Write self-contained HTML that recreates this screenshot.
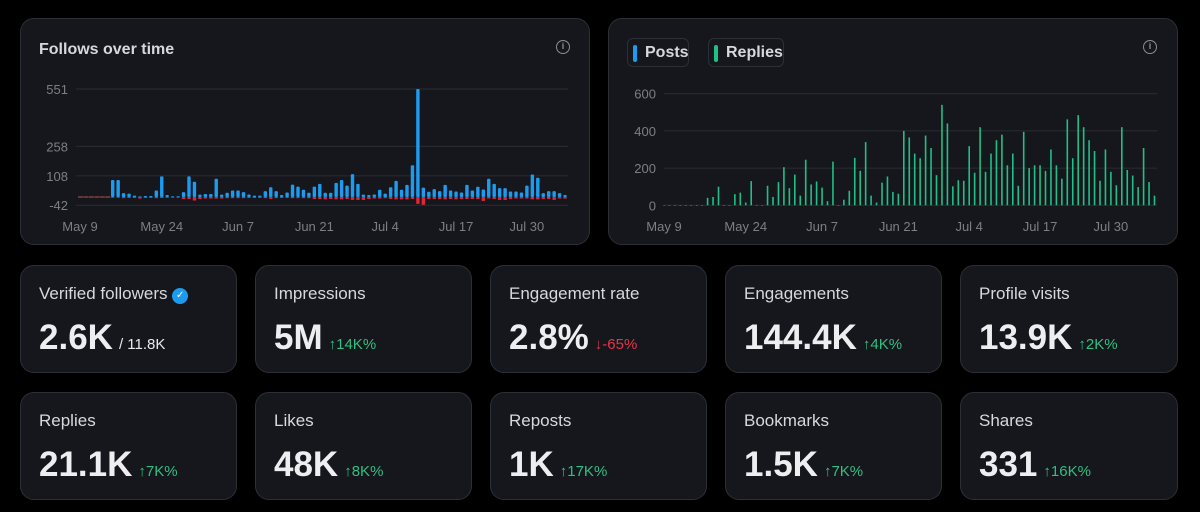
<!DOCTYPE html>
<html><head><meta charset="utf-8"><style>
*{box-sizing:border-box;margin:0;padding:0}
body{width:1200px;height:512px;background:#000;font-family:"Liberation Sans",sans-serif;position:relative;overflow:hidden;color:#e7e9ea}
.card{position:absolute;background:#16171c;border:1px solid #2c2f35;border-radius:14px}
.title{position:absolute;left:18px;top:22px;font-size:16px;font-weight:bold;color:#d6d9dc}
.info{position:absolute;width:14px;height:14px;border:1.5px solid #8b8f95;border-radius:50%;font-size:9px;color:#8b8f95;text-align:center;line-height:11px;font-weight:bold}
.stat .lbl{position:absolute;left:18px;top:18px;font-size:17px;color:#d6d9dc}
.stat .val{position:absolute;left:18px;top:52px;font-size:35px;font-weight:bold;color:#eceef0;white-space:nowrap}
.stat .chg{font-size:15px;font-weight:normal;color:#2fc07f;margin-left:6px}
.stat .chg.neg{color:#e0374a}
.stat .sub{font-size:15px;font-weight:normal;color:#e7e9ea;margin-left:6px}
.leg{position:absolute;top:19px;height:29px;border:1px solid #2c2f35;border-radius:6px;font-size:16px;font-weight:bold;color:#d6d9dc;padding:5px 8px 0 17px}
.leg i{position:absolute;left:5px;top:6px;width:4px;height:17px;border-radius:2px}
svg text{font-family:"Liberation Sans",sans-serif;font-size:13px;fill:#7b7f85}
</style></head><body>
<div class="card" style="left:20px;top:18px;width:570px;height:227px">
<div class="title">Follows over time</div>
<div class="info" style="left:535px;top:21px">i</div>
</div>
<div class="card" style="left:608px;top:18px;width:570px;height:227px">
<div class="leg" style="left:18px;width:62px"><i style="background:#1d9bf0"></i>Posts</div>
<div class="leg" style="left:99px;width:76px"><i style="background:#1fbf85"></i>Replies</div>
<div class="info" style="left:534px;top:21px">i</div>
</div>
<svg id="c" width="1200" height="512" style="position:absolute;left:0;top:0"></svg>
<script>
const dates1=["May 9","May 24","Jun 7","Jun 21","Jul 4","Jul 17","Jul 30"];
const dateIdx=[0,15,29,43,56,69,82];
const ticks1=[551,258,108,-42];
const follows=[0,0,0,0,0,0,87,87,20,17,7,3,5,5,33,105,10,3,4,25,105,78,12,15,15,93,12,22,33,33,25,13,7,7,30,50,30,10,23,63,53,37,22,53,67,22,22,72,87,58,117,67,12,10,13,37,17,50,82,37,62,162,551,48,27,40,30,62,33,28,23,62,33,52,38,93,67,45,45,28,28,23,58,115,98,20,30,30,20,10];
const unfollows=[0,0,0,0,0,0,-4,-4,-6,-5,-5,-8,-5,-5,-6,-5,-4,-4,-4,-10,-10,-18,-10,-8,-8,-8,-8,-6,-6,-6,-6,-5,-5,-5,-6,-10,-6,-5,-5,-6,-6,-6,-6,-10,-10,-12,-10,-12,-12,-10,-15,-15,-15,-10,-8,-8,-6,-10,-12,-12,-12,-10,-35,-40,-10,-10,-10,-12,-10,-12,-10,-10,-10,-10,-20,-8,-10,-15,-15,-10,-8,-8,-8,-12,-12,-10,-10,-15,-8,-8];
const ticks2=[600,400,200,0];
const replies=[0,0,0,0,0,0,0,0,40,45,100,0,0,60,68,15,130,0,0,105,45,125,205,92,165,52,245,112,128,95,22,235,0,30,78,255,185,340,52,15,122,155,72,62,400,365,278,253,375,308,162,540,440,102,135,132,318,175,420,180,278,350,380,215,278,105,395,200,215,215,185,300,215,143,462,253,485,420,350,292,132,300,180,108,420,190,160,98,308,125,52];
const svg=document.getElementById('c');const NS='http://www.w3.org/2000/svg';
function mk(t,a){const e=document.createElementNS(NS,t);for(const k in a)e.setAttribute(k,a[k]);svg.appendChild(e);return e;}
const x1=i=>80+i*5.45, y1=v=>197-v*0.196;
const x2=i=>664+i*5.45, y2=v=>205.3-v*0.186;
ticks1.forEach(t=>{const l=mk('line',{x1:76,x2:568,y1:y1(t),y2:y1(t),stroke:'#2a2d33'});
const tx=mk('text',{x:68,y:y1(t)+5,'text-anchor':'end'});tx.textContent=t;});
dates1.forEach((d,k)=>{const tx=mk('text',{x:x1(dateIdx[k]),y:231,'text-anchor':'middle'});tx.textContent=d;});
follows.forEach((v,i)=>{if(v<=0){const l=mk('line',{x1:x1(i)-2,x2:x1(i)+3,y1:y1(0),y2:y1(0),stroke:'#c0504d','stroke-width':1});return;}
const r=mk('rect',{x:x1(i)-1.7,y:y1(v),width:3.4,height:y1(0)-y1(v),fill:'#1d9bf0',rx:1});});
unfollows.forEach((v,i)=>{if(v>=0)return;const r=mk('rect',{x:x1(i)-1.7,y:y1(0),width:3.4,height:y1(v)-y1(0),fill:'#e0243a'});});
ticks2.forEach(t=>{const l=mk('line',{x1:664,x2:1157,y1:y2(t),y2:y2(t),stroke:'#2a2d33'});
const tx=mk('text',{x:656,y:y2(t)+5,'text-anchor':'end'});tx.textContent=t;});
dates1.forEach((d,k)=>{const tx=mk('text',{x:x2(dateIdx[k]),y:231,'text-anchor':'middle'});tx.textContent=d;});
replies.forEach((v,i)=>{const r=mk('rect',{x:x2(i)-0.8,y:y2(v),width:1.6,height:Math.max(0.5,y2(0)-y2(v)),fill:'#1fbf85'});});
</script>
<div class="card stat" style="left:20px;top:265px;width:217px;height:108px"><div class="lbl">Verified followers <span style="display:inline-block;width:16px;height:16px;border-radius:50%;background:#1d9bf0;color:#fff;font-size:10px;text-align:center;line-height:16px;vertical-align:1px">✓</span></div><div class="val">2.6K<span class="sub">/ 11.8K</span></div></div>
<div class="card stat" style="left:255px;top:265px;width:217px;height:108px"><div class="lbl">Impressions</div><div class="val">5M<span class="chg">↑14K%</span></div></div>
<div class="card stat" style="left:490px;top:265px;width:217px;height:108px"><div class="lbl">Engagement rate</div><div class="val">2.8%<span class="chg neg">↓-65%</span></div></div>
<div class="card stat" style="left:725px;top:265px;width:217px;height:108px"><div class="lbl">Engagements</div><div class="val">144.4K<span class="chg">↑4K%</span></div></div>
<div class="card stat" style="left:960px;top:265px;width:218px;height:108px"><div class="lbl">Profile visits</div><div class="val">13.9K<span class="chg">↑2K%</span></div></div>
<div class="card stat" style="left:20px;top:392px;width:217px;height:108px"><div class="lbl">Replies</div><div class="val">21.1K<span class="chg">↑7K%</span></div></div>
<div class="card stat" style="left:255px;top:392px;width:217px;height:108px"><div class="lbl">Likes</div><div class="val">48K<span class="chg">↑8K%</span></div></div>
<div class="card stat" style="left:490px;top:392px;width:217px;height:108px"><div class="lbl">Reposts</div><div class="val">1K<span class="chg">↑17K%</span></div></div>
<div class="card stat" style="left:725px;top:392px;width:217px;height:108px"><div class="lbl">Bookmarks</div><div class="val">1.5K<span class="chg">↑7K%</span></div></div>
<div class="card stat" style="left:960px;top:392px;width:218px;height:108px"><div class="lbl">Shares</div><div class="val">331<span class="chg">↑16K%</span></div></div>
</body></html>
